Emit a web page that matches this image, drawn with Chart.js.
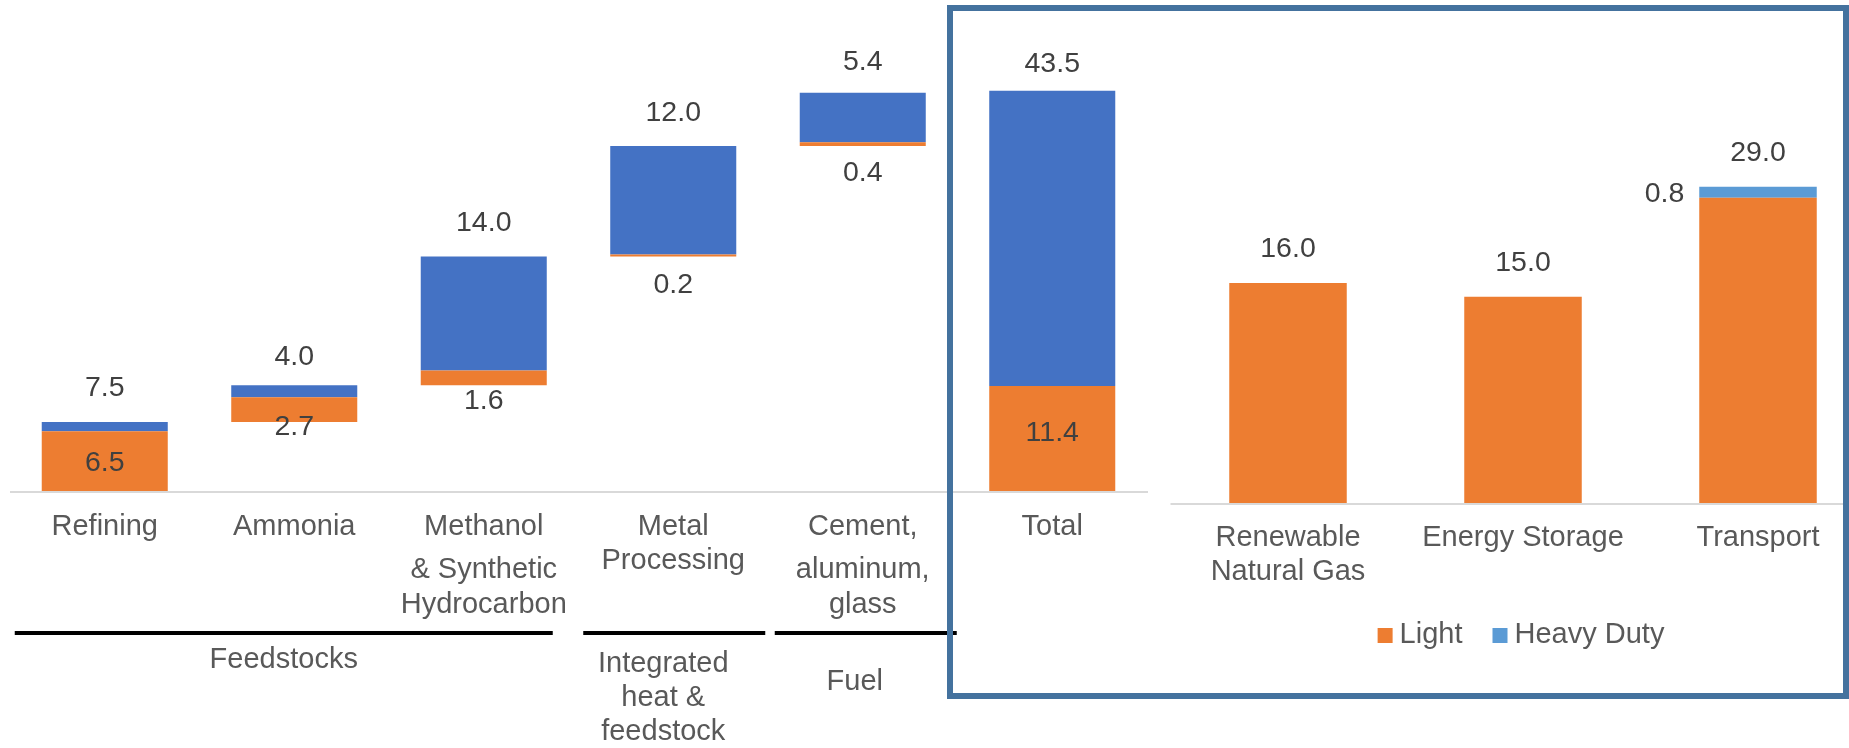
<!DOCTYPE html>
<html>
<head>
<meta charset="utf-8">
<title>Hydrogen demand</title>
<script src="https://cdn.jsdelivr.net/npm/chart.js@4.4.1/dist/chart.umd.min.js"></script>
<style>
    html, body {
        margin: 0;
        padding: 0;
        background: #ffffff;
        width: 1849px;
        height: 748px;
        overflow: hidden;
    }
    #leftChart {
        position: absolute;
        left: 0;
        top: 0;
    }
    #rightChart {
        position: absolute;
        left: 950px;
        top: 0;
    }
    #frame {
        position: absolute;
        left: 947px;
        top: 5px;
        width: 890px;
        height: 682px;
        border: 6px solid #44729e;
        pointer-events: none;
    }
</style>
</head>
<body>
<canvas id="leftChart" width="1160" height="748"></canvas>
<canvas id="rightChart" width="950" height="748"></canvas>
<div id="frame"></div>

<script>
// Left panel: waterfall of industrial uses
const categories = [
    ['Refining'],
    ['Ammonia'],
    ['Methanol', '& Synthetic', 'Hydrocarbon'],
    ['Metal', 'Processing'],
    ['Cement,', 'aluminum,', 'glass'],
    ['Total']
];
const lowValues = [6.5, 2.7, 1.6, 0.2, 0.4, 11.4];
const highValues = [1.0, 1.3, 12.4, 11.8, 5.4, 32.1];
const topLabels = ['7.5', '4.0', '14.0', '12.0', '5.4', '43.5'];

const groupLabels = [['Feedstocks'], ['Integrated', 'heat &', 'feedstock'], ['Fuel']];
const groupFirst = [0, 3, 4];
const groupLast = [2, 3, 4];

// Right panel: other uses
const rightCategories = [['Renewable', 'Natural Gas'], ['Energy Storage'], ['Transport']];
const lightValues = [16.0, 15.0, 22.2];
const heavyValues = [0, 0, 0.8];
const rightTopLabels = ['16.0', '15.0', '29.0'];

const FONT = '29px "Liberation Sans", Arial, sans-serif';
const VALUE_FONT = '28.5px "Liberation Sans", Arial, sans-serif';
const ORANGE = '#ED7D31';
const BLUE = '#4472C4';
const LIGHT_BLUE = '#5B9BD5';

// waterfall bases: each bar starts where the previous one ended, Total starts at 0
const totals = lowValues.map((v, i) => v + highValues[i]);
const bases = [];
let running = 0;
categories.forEach((c, i) => {
    if (i === categories.length - 1) {
        bases.push(0);
    } else {
        bases.push(running);
        running += totals[i];
    }
});

const leftDecor = {
    id: 'leftDecor',
    afterDatasetsDraw(chart) {
        const { ctx, chartArea, scales: { x } } = chart;
        const low = chart.getDatasetMeta(0).data;
        const high = chart.getDatasetMeta(1).data;
        const last = categories.length - 1;
        const aboveGap = [34, 28, 33, 33, 30, 27];
        const belowGap = [0, 5, 16, 29, 27, 0];

        ctx.save();
        ctx.strokeStyle = '#d9d9d9';
        ctx.lineWidth = 2;
        ctx.beginPath();
        ctx.moveTo(chartArea.left, chartArea.bottom + 1);
        ctx.lineTo(chartArea.right + 1, chartArea.bottom + 1);
        ctx.stroke();

        ctx.textAlign = 'center';
        ctx.textBaseline = 'middle';

        // value labels
        ctx.font = VALUE_FONT;
        ctx.fillStyle = '#404040';
        high.forEach((bar, i) => {
            const top = Math.min(bar.y, bar.base);
            ctx.fillText(topLabels[i], bar.x, top - aboveGap[i]);

            const o = low[i];
            const oTop = Math.min(o.y, o.base);
            const oBot = Math.max(o.y, o.base);
            const txt = lowValues[i].toFixed(1);
            if (i === 0) {
                ctx.fillText(txt, o.x, (oTop + oBot) / 2 + 2);
            } else if (i === last) {
                ctx.fillText(txt, o.x, (oTop + oBot) / 2 - 5);
            } else {
                ctx.fillText(txt, o.x, oBot + belowGap[i]);
            }
        });

        // category labels
        ctx.font = FONT;
        ctx.fillStyle = '#595959';
        categories.forEach((lines, i) => {
            const cx = x.getPixelForValue(i);
            const steps = lines.length === 3 ? [0, 43, 78] : [0, 34];
            lines.forEach((t, k) => {
                ctx.fillText(t, cx, chartArea.bottom + 36 + steps[k]);
            });
        });

        // group brackets and names
        const padL = [90, 90, 88];
        const padR = [69, 92, 94];
        const nameY = [169, 173, 191];
        const nameShift = [0, -11, -11];
        groupFirst.forEach((f, g) => {
            const l = x.getPixelForValue(f) - padL[g];
            const r = x.getPixelForValue(groupLast[g]) + padR[g];
            ctx.fillStyle = '#000000';
            ctx.fillRect(l, chartArea.bottom + 140, r - l, 4);
            ctx.fillStyle = '#595959';
            const cx = (l + r) / 2 + nameShift[g];
            groupLabels[g].forEach((t, k) => {
                ctx.fillText(t, cx, chartArea.bottom + nameY[g] + k * 34);
            });
        });
        ctx.restore();
    }
};

new Chart(document.getElementById('leftChart'), {
    type: 'bar',
    data: {
        labels: categories.map(c => c.join(' ')),
        datasets: [
            {
                label: 'Light',
                data: bases.map((b, i) => [b, b + lowValues[i]]),
                backgroundColor: ORANGE
            },
            {
                label: 'Heavy Duty',
                data: bases.map((b, i) => [b + lowValues[i], b + totals[i]]),
                backgroundColor: BLUE
            }
        ]
    },
    options: {
        responsive: false,
        animation: false,
        layout: { padding: { left: 10, right: 13, top: 31, bottom: 257 } },
        datasets: { bar: { barPercentage: 0.665, categoryPercentage: 1.0 } },
        plugins: { legend: { display: false }, tooltip: { enabled: false } },
        scales: {
            x: { display: false, stacked: true },
            y: { display: false, min: 0, max: 50 }
        }
    },
    plugins: [leftDecor]
});

const rightDecor = {
    id: 'rightDecor',
    afterDatasetsDraw(chart) {
        const { ctx, chartArea, scales: { x } } = chart;
        const light = chart.getDatasetMeta(0).data;
        const heavy = chart.getDatasetMeta(1).data;

        ctx.save();
        ctx.strokeStyle = '#d9d9d9';
        ctx.lineWidth = 2;
        ctx.beginPath();
        ctx.moveTo(chartArea.left, chartArea.bottom + 1);
        ctx.lineTo(chart.width, chartArea.bottom + 1);
        ctx.stroke();

        ctx.font = VALUE_FONT;
        ctx.textBaseline = 'middle';
        ctx.fillStyle = '#404040';
        light.forEach((bar, i) => {
            const top = Math.min(bar.y, heavy[i].y);
            ctx.textAlign = 'center';
            ctx.fillText(rightTopLabels[i], bar.x, top - 34);
            if (heavyValues[i] > 0) {
                const h = heavy[i];
                ctx.textAlign = 'right';
                ctx.fillText(heavyValues[i].toFixed(1), h.x - h.width / 2 - 15, (h.y + h.base) / 2 + 2);
            }
        });

        ctx.font = FONT;
        ctx.textAlign = 'center';
        ctx.fillStyle = '#595959';
        rightCategories.forEach((lines, i) => {
            const cx = x.getPixelForValue(i);
            lines.forEach((t, k) => {
                ctx.fillText(t, cx, chartArea.bottom + 35 + k * 34);
            });
        });

        // legend
        const items = chart.data.datasets.map(d => ({ text: d.label, color: d.backgroundColor }));
        const widths = items.map(it => ctx.measureText(it.text).width);
        const total = widths.reduce((s, w) => s + w + 22, 0) + 30 * (items.length - 1);
        let lx = (chartArea.left + chartArea.right) / 2 - 2 - total / 2;
        const ly = chartArea.bottom + 132;
        ctx.textAlign = 'left';
        items.forEach((it, k) => {
            ctx.fillStyle = it.color;
            ctx.fillRect(lx, ly - 7, 15, 15);
            ctx.fillStyle = '#595959';
            ctx.fillText(it.text, lx + 22, ly);
            lx += 22 + widths[k] + 30;
        });
        ctx.restore();
    }
};

new Chart(document.getElementById('rightChart'), {
    type: 'bar',
    data: {
        labels: rightCategories.map(c => c.join(' ')),
        datasets: [
            { label: 'Light', data: lightValues, backgroundColor: ORANGE },
            { label: 'Heavy Duty', data: heavyValues, backgroundColor: LIGHT_BLUE }
        ]
    },
    options: {
        responsive: false,
        animation: false,
        layout: { padding: { left: 220.5, right: 24.5, top: 90.5, bottom: 245 } },
        datasets: { bar: { barPercentage: 0.5, categoryPercentage: 1.0 } },
        plugins: { legend: { display: false }, tooltip: { enabled: false } },
        scales: {
            x: { display: false, stacked: true },
            y: { display: false, stacked: true, min: 0, max: 30 }
        }
    },
    plugins: [rightDecor]
});
</script>
</body>
</html>
